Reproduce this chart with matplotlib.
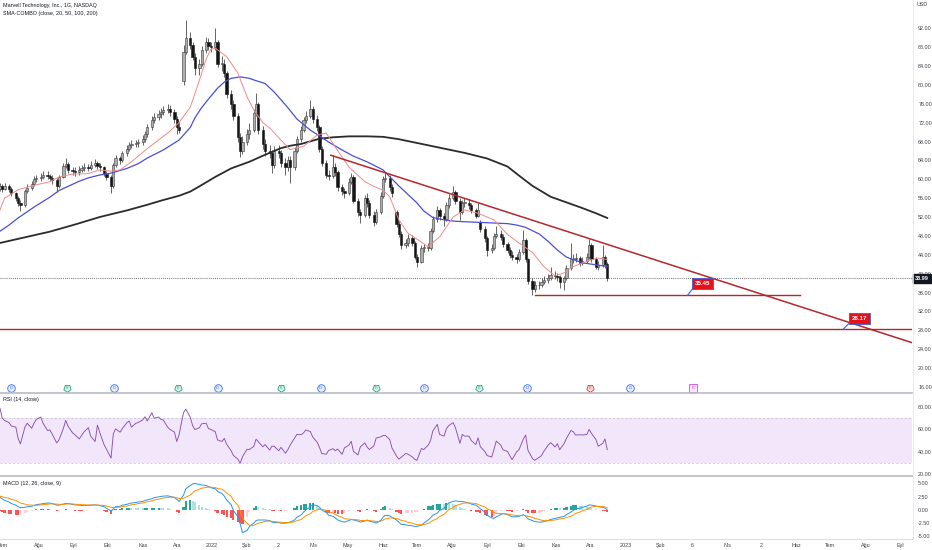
import numpy as np
import pandas as pd
import matplotlib
matplotlib.use('Agg')
import matplotlib.pyplot as plt
import matplotlib.dates as mdates
from matplotlib.lines import Line2D

plt.rcParams['font.family'] = ['Liberation Sans', 'DejaVu Sans']

# one bar every 2 trading days, starting 2021-06-28
bar_start = '2021-06-28'
first_open = 58.0
gap_opens = {58: 80.8, 125: 53.0, 152: 51.0}

closes = [
    58.5, 58.0, 58.5, 58.0, 57.0, 56.0, 55.0, 54.5, 57.5, 58.2,
    59.0, 60.0, 60.2, 60.5, 61.0, 60.8, 60.3, 59.8, 58.5, 60.5,
    62.8, 63.2, 62.0, 61.8, 61.5, 62.0, 62.3, 62.6, 62.4, 63.0,
    63.4, 62.8, 62.5, 61.2, 60.5, 58.5, 63.0, 64.5, 64.0, 65.5,
    66.5, 67.3, 67.5, 67.7, 67.8, 68.5, 69.5, 71.0, 72.5, 73.2,
    73.8, 74.2, 74.7, 75.0, 74.3, 72.8, 71.0, 70.5, 87.0, 90.0,
    88.5, 86.0, 83.5, 84.5, 87.5, 89.0, 88.3, 88.0, 89.0, 84.5,
    84.5, 82.5, 78.0, 76.0, 73.5, 69.0, 66.0, 68.0, 69.5, 70.5,
    74.0, 76.0, 70.5, 67.5, 66.0, 65.5, 63.0, 66.0, 65.5, 63.5,
    62.5, 64.0, 62.5, 66.0, 68.5, 70.5, 72.5, 73.5, 75.0, 72.8,
    71.0, 66.5, 63.5, 61.0, 60.8, 62.5, 61.5, 58.3, 57.5, 57.0,
    59.5, 60.5, 55.5, 53.0, 52.5, 56.0, 55.0, 52.5, 51.0, 53.0,
    56.5, 60.0, 60.3, 58.3, 57.0, 50.5, 48.5, 46.0, 46.5, 47.5,
    46.5, 43.5, 42.5, 45.5, 45.5, 45.5, 49.0, 51.5, 53.5, 52.2,
    51.5, 54.5, 56.0, 57.2, 55.5, 53.0, 55.0, 55.0, 54.5, 53.5,
    52.3, 53.5, 49.5, 47.5, 45.0, 45.5, 48.0, 48.5, 47.8, 46.2,
    45.0, 44.0, 43.6, 43.0, 44.5, 47.2, 43.0, 38.5, 36.8, 37.5,
    37.6, 38.3, 38.7, 39.0, 39.8, 39.5, 39.2, 38.2, 39.0, 41.2,
    43.2, 43.0, 43.3, 42.3, 42.7, 43.5, 46.0, 43.0, 41.5, 41.8,
    43.5, 42.0, 38.99]

highs = [
    59.3, 59.0, 59.2, 58.9, 58.4, 57.4, 56.5, 55.6, 57.9, 58.9,
    59.6, 60.6, 61.0, 61.3, 61.8, 61.7, 61.2, 60.9, 60.2, 61.0,
    63.4, 64.5, 63.6, 62.7, 62.5, 62.8, 63.0, 63.4, 63.2, 63.9,
    64.2, 63.9, 63.5, 62.9, 61.8, 60.9, 63.5, 65.1, 65.0, 66.1,
    67.2, 68.0, 68.3, 68.4, 68.6, 69.3, 70.3, 71.8, 73.4, 74.1,
    74.6, 75.2, 75.6, 76.0, 75.8, 74.9, 73.4, 72.2, 88.5, 93.8,
    91.2, 89.0, 86.8, 85.5, 88.2, 90.1, 90.0, 89.2, 92.0, 89.6,
    86.2, 85.5, 83.0, 78.9, 76.8, 74.0, 69.8, 69.2, 70.6, 72.0,
    74.9, 78.3, 76.4, 71.2, 68.6, 67.3, 66.3, 67.0, 67.2, 66.3,
    64.6, 65.0, 64.9, 66.8, 69.2, 71.3, 73.3, 74.4, 76.8, 75.6,
    73.6, 71.5, 67.0, 64.0, 61.9, 65.1, 63.4, 62.0, 59.0, 58.2,
    60.2, 61.4, 61.0, 56.0, 53.8, 56.6, 57.0, 55.6, 53.2, 53.7,
    57.2, 60.8, 61.3, 60.9, 59.0, 53.5, 51.1, 49.0, 47.4, 48.3,
    48.1, 47.0, 44.2, 46.0, 46.3, 46.4, 49.6, 52.2, 54.4, 54.0,
    52.8, 55.2, 56.8, 58.6, 57.8, 56.0, 55.7, 56.0, 55.8, 55.0,
    54.0, 55.0, 51.4, 50.0, 47.9, 46.3, 48.6, 50.2, 49.2, 48.3,
    46.8, 45.6, 44.7, 44.2, 45.2, 49.3, 47.6, 43.4, 39.0, 38.4,
    38.5, 39.0, 39.5, 39.9, 41.5, 40.6, 40.2, 39.7, 39.6, 41.9,
    46.5, 44.2, 44.3, 43.8, 43.5, 44.3, 47.3, 46.4, 43.5, 42.6,
    46.1, 44.0, 42.4]

lows = [
    57.6, 57.4, 57.7, 57.3, 56.5, 55.4, 54.3, 53.3, 54.2, 57.0,
    57.8, 58.6, 59.5, 59.7, 60.0, 60.1, 59.6, 59.1, 57.3, 58.2,
    60.2, 62.3, 61.4, 61.0, 60.8, 60.9, 61.5, 61.8, 61.7, 62.0,
    62.5, 62.1, 61.8, 60.6, 59.8, 57.0, 58.2, 62.5, 63.2, 63.6,
    65.0, 66.0, 66.7, 66.8, 66.9, 67.2, 68.0, 69.0, 70.5, 72.0,
    72.6, 73.0, 73.6, 74.0, 73.5, 72.0, 69.6, 69.8, 80.0, 86.5,
    87.6, 85.2, 82.1, 82.0, 84.0, 86.8, 87.5, 87.0, 87.4, 83.8,
    83.0, 81.6, 77.2, 75.0, 72.6, 67.9, 64.8, 65.3, 67.2, 68.6,
    70.0, 73.4, 69.6, 66.5, 65.0, 64.6, 61.3, 62.4, 64.6, 62.6,
    61.0, 61.8, 59.2, 62.0, 65.6, 68.0, 70.0, 72.0, 73.0, 72.0,
    70.2, 65.8, 62.8, 60.2, 59.8, 60.3, 60.6, 57.6, 56.7, 56.0,
    56.6, 58.9, 55.0, 52.3, 50.7, 52.0, 54.2, 51.8, 50.0, 50.5,
    52.6, 56.0, 59.4, 57.6, 56.3, 49.8, 47.8, 45.3, 45.4, 45.9,
    45.8, 43.0, 41.5, 42.2, 44.6, 44.7, 45.0, 48.6, 51.0, 51.4,
    50.0, 51.1, 54.0, 55.6, 54.8, 51.3, 52.6, 54.2, 53.8, 52.8,
    51.7, 51.9, 48.8, 46.8, 43.7, 44.4, 45.1, 47.6, 47.1, 45.6,
    44.3, 43.3, 42.9, 42.3, 42.6, 44.1, 42.4, 37.8, 35.45, 36.2,
    36.8, 37.1, 37.8, 38.1, 38.6, 38.8, 38.5, 37.0, 36.6, 38.7,
    40.8, 42.2, 42.4, 41.7, 41.8, 42.2, 43.1, 42.5, 40.9, 40.8,
    41.4, 41.3, 38.4]

# moving averages, read at selected bars
sma20_idx = [0, 2, 6, 10, 16, 19, 23, 28, 32, 35, 38, 42, 47, 53, 57, 60, 63, 65, 67, 68,
             72, 75, 78, 80, 83, 85, 89, 92, 96, 100, 103, 106, 110, 115, 118, 121, 123, 126, 129, 135,
             139, 143, 147, 151, 156, 160, 164, 168, 172, 175, 178, 181, 186, 189, 192]
sma20_val = [53.5, 56, 57.8, 58.6, 59.5, 60.5, 61.1, 61.2, 62, 61.7, 62, 63.7, 66.5, 69.8, 72.0, 75.3, 81, 85.5, 87.5, 87.8,
             86, 82.5, 77.5, 74.7, 72, 70.9, 68.3, 66.3, 67, 69.4, 69.8, 66.8, 62.6, 59.5, 58.5, 57.7, 56.3, 51.4, 48.6, 45.7,
             47.8, 52, 53.5, 52.8, 51.4, 48.3, 46.5, 44.5, 41.5, 39.5, 40.2, 41.5, 42.8, 43.3, 43]
sma50_idx = [0, 3, 6, 11, 16, 19, 25, 28, 32, 35, 40, 44, 47, 52, 57, 60, 62, 64, 66, 69,
             71, 73, 76, 79, 81, 84, 87, 91, 94, 96, 98, 101, 104, 108, 112, 116, 121, 126, 129, 132,
             134, 137, 141, 144, 147, 154, 157, 160, 163, 166, 170, 173, 176, 179, 184, 189, 192]
sma50_val = [49, 50.3, 51.8, 54.1, 56.2, 57.6, 59.6, 60.3, 60.9, 61.3, 62.3, 63.3, 64.5, 66.2, 68.3, 71.0, 73, 75.2, 77, 79.3,
             80.6, 81.4, 81.7, 81.4, 80.9, 80.3, 78.5, 75.2, 72.8, 71.6, 70.4, 69.2, 67.9, 66.2, 64.9, 63.7, 62, 58.6, 56.8, 55,
             53.3, 51.9, 51.3, 51.1, 51, 50.8, 50.7, 50.6, 50.3, 49.8, 48.4, 46.8, 45.0, 43.5, 42.3, 41.8, 41.5]
sma200_idx = [0, 8, 16, 24, 32, 40, 47, 52, 57, 60, 63, 68, 73, 79, 84, 89, 92, 95, 101, 105,
              110, 116, 121, 126, 131, 137, 142, 147, 154, 160, 164, 168, 174, 179, 184, 188, 192]
sma200_val = [46.5, 47.7, 48.9, 50.4, 52, 53.4, 54.6, 55.6, 56.5, 57.4, 58.5, 60.5, 62.3, 63.7, 65.2, 66.6, 67.1, 67.5,
              68.6, 68.9, 69.1, 69.1, 69, 68.5, 67.8, 67, 66.3, 65.6, 64.4, 62.7, 60.8, 58.6, 56.3, 55.1, 53.9, 52.8, 51.8]

rsi_vals = [
    78.8, 70.0, 68.0, 66.0, 63.0, 62.0, 52.0, 47.0, 62.0, 65.5,
    61.0, 65.5, 68.8, 71.0, 65.5, 59.0, 59.5, 56.0, 48.0, 50.5,
    61.0, 68.0, 63.0, 57.0, 55.4, 51.5, 54.5, 57.6, 61.6, 54.0,
    49.2, 63.8, 57.4, 46.0, 42.4, 34.4, 56.0, 60.5, 57.5, 60.8,
    66.0, 67.5, 62.0, 65.5, 66.1, 68.5, 71.2, 67.5, 74.8, 70.0,
    71.0, 68.9, 68.5, 62.0, 60.0, 57.6, 49.2, 55.0, 75.0, 78.0,
    70.8, 63.5, 59.8, 61.5, 65.0, 65.5, 60.7, 60.0, 58.0, 50.6,
    49.2, 52.0, 46.8, 41.0, 36.8, 33.5, 29.8, 35.5, 42.3, 42.0,
    44.8, 51.3, 49.0, 44.5, 46.5, 41.6, 45.0, 45.0, 41.0, 44.0,
    38.8, 41.8, 45.8, 52.2, 55.5, 55.3, 57.0, 59.5, 58.0, 53.3,
    48.5, 44.0, 38.5, 37.9, 41.2, 42.8, 41.0, 42.5, 37.8, 43.5,
    46.0, 49.4, 40.3, 37.3, 44.3, 48.0, 44.3, 42.1, 45.3, 52.3,
    53.3, 54.5, 54.8, 51.0, 43.5, 36.2, 33.5, 35.0, 38.5, 38.0,
    35.5, 33.4, 32.5, 43.0, 42.0, 46.0, 50.0, 58.5, 64.5, 55.5,
    54.0, 60.5, 63.3, 66.0, 61.5, 47.5, 55.5, 54.0, 54.0, 50.0,
    46.5, 52.5, 44.5, 40.3, 36.7, 35.4, 42.0, 49.6, 46.0, 41.8,
    40.4, 36.5, 33.0, 40.0, 41.7, 51.5, 55.0, 41.5, 34.0, 32.5,
    35.2, 36.7, 40.4, 46.1, 48.2, 44.4, 47.3, 41.9, 47.5, 52.0,
    59.0, 58.0, 55.0, 55.2, 55.0, 55.5, 60.0, 56.5, 51.0, 45.0,
    47.5, 51.5, 42.0]

macd_vals = [
    2.4, 2.1, 1.8, 1.5, 1.2, 0.9, 0.6, 0.4, 0.5, 0.6,
    0.7, 0.85, 1.0, 1.1, 1.2, 1.3, 1.3, 1.2, 0.9, 0.9,
    1.1, 1.25, 1.2, 1.05, 0.95, 0.9, 0.85, 0.85, 0.85, 0.9,
    0.95, 0.9, 0.8, 0.6, 0.3, -0.2, 0.2, 0.6, 0.7, 0.9,
    1.05, 1.2, 1.3, 1.4, 1.5, 1.6, 1.75, 1.9, 2.1, 2.3,
    2.45, 2.55, 2.6, 2.65, 2.55, 2.35, 2.0, 1.6, 2.8, 4.0,
    4.6, 4.9, 5.0, 4.8, 4.7, 4.6, 4.4, 4.2, 4.0, 3.5,
    3.1, 2.6, 1.9, 1.0, -0.1, -1.3, -2.6, -4.3, -3.9, -3.2,
    -2.5, -2.0, -1.9, -1.9, -1.9, -2.0, -2.3, -2.4, -2.4, -2.5,
    -2.5, -2.4, -2.3, -1.9, -1.4, -0.9, -0.4, 0.0, 0.6, 1.0,
    0.8, 0.5, 0.0, -0.5, -1.0, -1.2, -1.5, -1.9, -2.2, -2.3,
    -2.0, -1.8, -1.9, -2.1, -2.3, -2.1, -1.9, -2.1, -2.3, -2.5,
    -2.0, -1.4, -1.0, -1.1, -1.4, -1.9, -2.3, -2.7, -2.8, -2.9,
    -3.0, -3.1, -3.1, -2.9, -2.5, -1.9, -1.5, -1.0, -0.6, -0.1,
    0.3, 0.9, 1.3, 1.6, 1.7, 1.6, 1.6, 1.5, 1.3, 1.1,
    0.9, 0.6, 0.2, -0.4, -1.0, -1.5, -1.6, -1.3, -0.9, -0.7,
    -0.9, -1.1, -1.3, -1.3, -1.2, -0.9, -1.2, -1.7, -2.0, -2.2,
    -2.3, -2.3, -2.2, -2.0, -1.8, -1.6, -1.5, -1.4, -1.2, -0.9,
    -0.4, -0.1, 0.2, 0.3, 0.5, 0.7, 0.95, 0.9, 0.75, 0.6,
    0.5, 0.35, 0.0]

signal_vals = [
    2.6, 2.5, 2.35, 2.2, 2.0, 1.8, 1.55, 1.3, 1.1, 0.95,
    0.9, 0.85, 0.88, 0.93, 1.0, 1.07, 1.13, 1.15, 1.1, 1.05,
    1.06, 1.1, 1.13, 1.12, 1.08, 1.04, 1.0, 0.96, 0.93, 0.92,
    0.93, 0.92, 0.9, 0.83, 0.72, 0.5, 0.43, 0.47, 0.53, 0.62,
    0.73, 0.85, 0.97, 1.08, 1.2, 1.3, 1.42, 1.55, 1.7, 1.86,
    2.0, 2.13, 2.25, 2.35, 2.4, 2.4, 2.3, 2.15, 2.2, 2.4,
    2.8, 3.2, 3.6, 3.9, 4.1, 4.25, 4.3, 4.3, 4.2, 4.05,
    3.9, 3.6, 3.2, 2.6, 1.8, 0.9, -0.2, -1.6, -2.5, -2.9,
    -2.9, -2.7, -2.5, -2.3, -2.15, -2.1, -2.15, -2.22, -2.28, -2.35,
    -2.38, -2.39, -2.37, -2.25, -2.05, -1.78, -1.45, -1.1, -0.7, -0.3,
    0.0, 0.15, 0.1, -0.1, -0.35, -0.6, -0.85, -1.1, -1.4, -1.65,
    -1.75, -1.77, -1.8, -1.88, -1.98, -2.02, -2.0, -2.03, -2.1, -2.2,
    -2.15, -1.95, -1.7, -1.55, -1.5, -1.6, -1.75, -1.95, -2.15, -2.35,
    -2.5, -2.65, -2.78, -2.82, -2.75, -2.55, -2.3, -2.0, -1.65, -1.25,
    -0.85, -0.4, 0.05, 0.45, 0.8, 1.05, 1.2, 1.3, 1.32, 1.28,
    1.2, 1.05, 0.85, 0.55, 0.2, -0.15, -0.45, -0.65, -0.72, -0.72,
    -0.77, -0.85, -0.95, -1.05, -1.1, -1.05, -1.08, -1.2, -1.4, -1.6,
    -1.8, -1.95, -2.03, -2.03, -1.98, -1.9, -1.8, -1.7, -1.58, -1.43,
    -1.2, -0.95, -0.65, -0.4, -0.15, 0.1, 0.35, 0.55, 0.65, 0.65,
    0.62, 0.55, 0.4]

# drawings on the chart
trend_pts = [('2022-04-16', 65.1), ('2023-03-19', 39.0)]
support_price = 35.45
support_span = ('2022-10-13', '2023-06-04')
floor_price = 28.17
last_price = 38.99

event_dates = ['2021-07-08', '2021-08-26', '2021-10-07', '2021-12-02', '2022-01-06', '2022-03-03',
               '2022-04-07', '2022-05-26', '2022-07-07', '2022-08-25', '2022-10-06', '2022-12-01',
               '2023-01-05', '2023-03-02']
event_kinds = ['D', 'E', 'D', 'E', 'D', 'E', 'D', 'E', 'D', 'E', 'D', 'Ebad', 'D', 'Enext']

month_labels = ['Tem', 'Ağu', 'Eyl', 'Eki', 'Kas', 'Ara', '2022', 'Şub', '2', 'Nis', 'May', 'Haz',
                'Tem', 'Ağu', 'Eyl', 'Eki', 'Kas', 'Ara', '2023', 'Şub', '6', 'Nis', '2', 'Haz',
                'Tem', 'Ağu', 'Eyl']

# ---------------------------------------------------------------
W, H = 932, 550
fig = plt.figure(figsize=(W / 100, H / 100), dpi=100)
fig.patch.set_facecolor('white')

def frame(top, bottom):
    return [0, 1 - bottom / H, 912 / W, (bottom - top) / H]

ax = fig.add_axes(frame(0, 393))
ax_rsi = fig.add_axes(frame(393, 476))
ax_macd = fig.add_axes(frame(476, 538))

dates = pd.bdate_range(bar_start, periods=len(closes), freq='2B')
xd = mdates.date2num(dates)
c = np.array(closes)
o = np.r_[first_open, c[:-1]]
for k, v in gap_opens.items():
    o[k] = v
hi = np.array(highs)
lo = np.array(lows)
up = c >= o

xlim = (mdates.datestr2num('2021-06-28'), mdates.datestr2num('2023-09-11'))
txt = '#3c3f48'
fs = 3.9

# candles
ax.vlines(xd, lo, hi, color='#3a3a3a', lw=0.55, zorder=2)
ax.bar(xd[up], np.maximum(c - o, 0.08)[up], bottom=o[up], width=2.0,
       color='#aeaeae', edgecolor='#3a3a3a', lw=0.4, zorder=3)
ax.bar(xd[~up], (o - c)[~up], bottom=c[~up], width=2.0,
       color='#151515', edgecolor='#151515', lw=0.4, zorder=3)

# SMA combo
ax.plot(xd[sma200_idx], sma200_val, color='#2b2b2b', lw=1.3, zorder=4)
ax.plot(xd[sma50_idx], sma50_val, color='#4b4fd6', lw=0.9, zorder=4)
ax.plot(xd[sma20_idx], sma20_val, color='#f08a8a', lw=0.7, zorder=4)

# trend line, extended right
t0, p0 = mdates.datestr2num(trend_pts[0][0]), trend_pts[0][1]
t1, p1 = mdates.datestr2num(trend_pts[1][0]), trend_pts[1][1]
slope = (p1 - p0) / (t1 - t0)
t_end = xlim[1] + 30
ax.plot([t0, t_end], [p0, p0 + slope * (t_end - t0)], color='#b8262b', lw=1.1, zorder=5)

# horizontal levels
ax.plot(mdates.datestr2num(list(support_span)), [support_price] * 2, color='#b8262b', lw=1.0, zorder=5)
ax.axhline(floor_price, color='#b8262b', lw=1.0, zorder=5)
ax.axhline(last_price, color='#404040', lw=0.6, ls=(0, (1, 1.5)), zorder=1)

# price notes
def note(label, d_from, d_to, p_from, p_to, d_box, p_box):
    ax.plot(mdates.datestr2num([d_from, d_to]), [p_from, p_to], color='#3b5fd9', lw=0.8, zorder=6)
    ax.text(mdates.datestr2num(d_box), p_box, label, ha='center', va='center', color='white',
            fontsize=4.4, fontweight='bold', zorder=7,
            bbox=dict(boxstyle='square,pad=0.45', fc='#e3121b', ec='#3b5fd9', lw=0.6))

note('35.45', '2023-02-25', '2023-03-02', support_price, 37.0, '2023-03-10', 37.9)
note('28.17', '2023-07-12', '2023-07-18', floor_price, 29.6, '2023-07-27', 30.5)

# dividends / earnings markers
ev_style = {
    'D': ('o', '#e6edff', '#3d6ef5', 'D'),
    'E': ((5, 0, 180), '#dcf3ec', '#22a57a', 'E'),
    'Ebad': ((5, 0, 180), '#fde3e3', '#e53935', 'E'),
    'Enext': ('s', '#fbe6fc', '#d946ef', 'E'),
}
ev_y = 15.8
for d, k in zip(event_dates, event_kinds):
    mk, fc, ec, letter = ev_style[k]
    xx = mdates.datestr2num(d)
    ax.scatter([xx], [ev_y], marker=mk, s=30, facecolor=fc, edgecolor=ec, lw=0.6, zorder=6, clip_on=False)
    ax.text(xx, ev_y, letter, ha='center', va='center', fontsize=3.0, color=ec, zorder=7)

ax.set_ylim(14.7, 98)
ax.set_yticks(np.arange(16, 93, 4))
ax.set_yticklabels([f'{v:.2f}' for v in np.arange(16, 93, 4)])

# current price tag
ax.text(1.003, last_price, f'{last_price:.2f}', transform=ax.get_yaxis_transform(), ha='left', va='center',
        fontsize=4.0, color='white', fontweight='bold', zorder=8, clip_on=False,
        bbox=dict(boxstyle='square,pad=0.35', fc='#131722', ec='#131722'))

# RSI
rsi_lo, rsi_hi = 30, 70
ax_rsi.axhspan(rsi_lo, rsi_hi, color='#f2e6fb', lw=0)
ax_rsi.axhline(rsi_hi, color='#c4bccc', lw=0.5, ls=(0, (3, 3)))
ax_rsi.axhline(rsi_lo, color='#c4bccc', lw=0.5, ls=(0, (3, 3)))
ax_rsi.plot(xd, rsi_vals, color='#8a4fb0', lw=0.65)
ax_rsi.set_ylim(18.5, 92.4)
ax_rsi.set_yticks([20, 40, 60, 80])
ax_rsi.set_yticklabels(['20.00', '40.00', '60.00', '80.00'])

# MACD
m = np.array(macd_vals)
s = np.array(signal_vals)
h = m - s
h_prev = np.r_[h[0], h[:-1]]
cols = np.where(h >= 0, np.where(h > h_prev, '#26a69a', '#b2dfdb'),
                np.where(h > h_prev, '#ffcdd2', '#ff5252'))
ax_macd.bar(xd, h, width=1.9, color=cols, lw=0)
ax_macd.plot(xd, m, color='#2196f3', lw=0.7)
ax_macd.plot(xd, s, color='#ff8f00', lw=0.7)
ax_macd.set_ylim(-5.3, 6.4)
ax_macd.set_yticks([-5, -2.5, 0, 2.5, 5])
ax_macd.set_yticklabels(['-5.00', '-2.50', '0.00', '2.50', '5.00'])

months = pd.date_range('2021-07-01', periods=len(month_labels), freq='MS')
for a in (ax, ax_rsi, ax_macd):
    a.set_xlim(*xlim)
    a.set_facecolor('white')
    for sp in a.spines.values():
        sp.set_visible(False)
    a.yaxis.tick_right()
    a.tick_params(axis='y', length=0, pad=4.5, labelsize=fs, labelcolor=txt)
    a.set_xticks(mdates.date2num(months))
    a.tick_params(axis='x', length=0, labelbottom=False)

ax_macd.set_xticklabels(month_labels)
ax_macd.tick_params(axis='x', labelbottom=True, pad=3.5, labelsize=fs, labelcolor=txt)

# panel separators
for yy, lw, col in [(393, 1.2, '#b8bbc3'), (476, 1.2, '#b8bbc3'), (538.5, 0.6, '#d6d9e0')]:
    fig.add_artist(Line2D([0, 912 / W], [1 - yy / H] * 2, color=col, lw=lw))
fig.add_artist(Line2D([912.5 / W] * 2, [1 - 538.5 / H, 1], color='#e3e5ea', lw=0.6))

# headers
fig.text(3 / W, 1 - 6 / H, 'Marvell Technology, Inc., 1G, NASDAQ', fontsize=fs, color='#131722', va='center')
fig.text(3 / W, 1 - 14 / H, 'SMA-COMBO (close, 20, 50, 100, 200)', fontsize=fs, color='#131722', va='center')
fig.text(3 / W, 1 - 400 / H, 'RSI (14, close)', fontsize=fs, color='#131722', va='center')
fig.text(3 / W, 1 - 484 / H, 'MACD (12, 26, close, 9)', fontsize=fs, color='#131722', va='center')
fig.text(917 / W, 1 - 5 / H, 'USD', fontsize=fs, color=txt, va='center')

fig.savefig('out.png', dpi=100)
